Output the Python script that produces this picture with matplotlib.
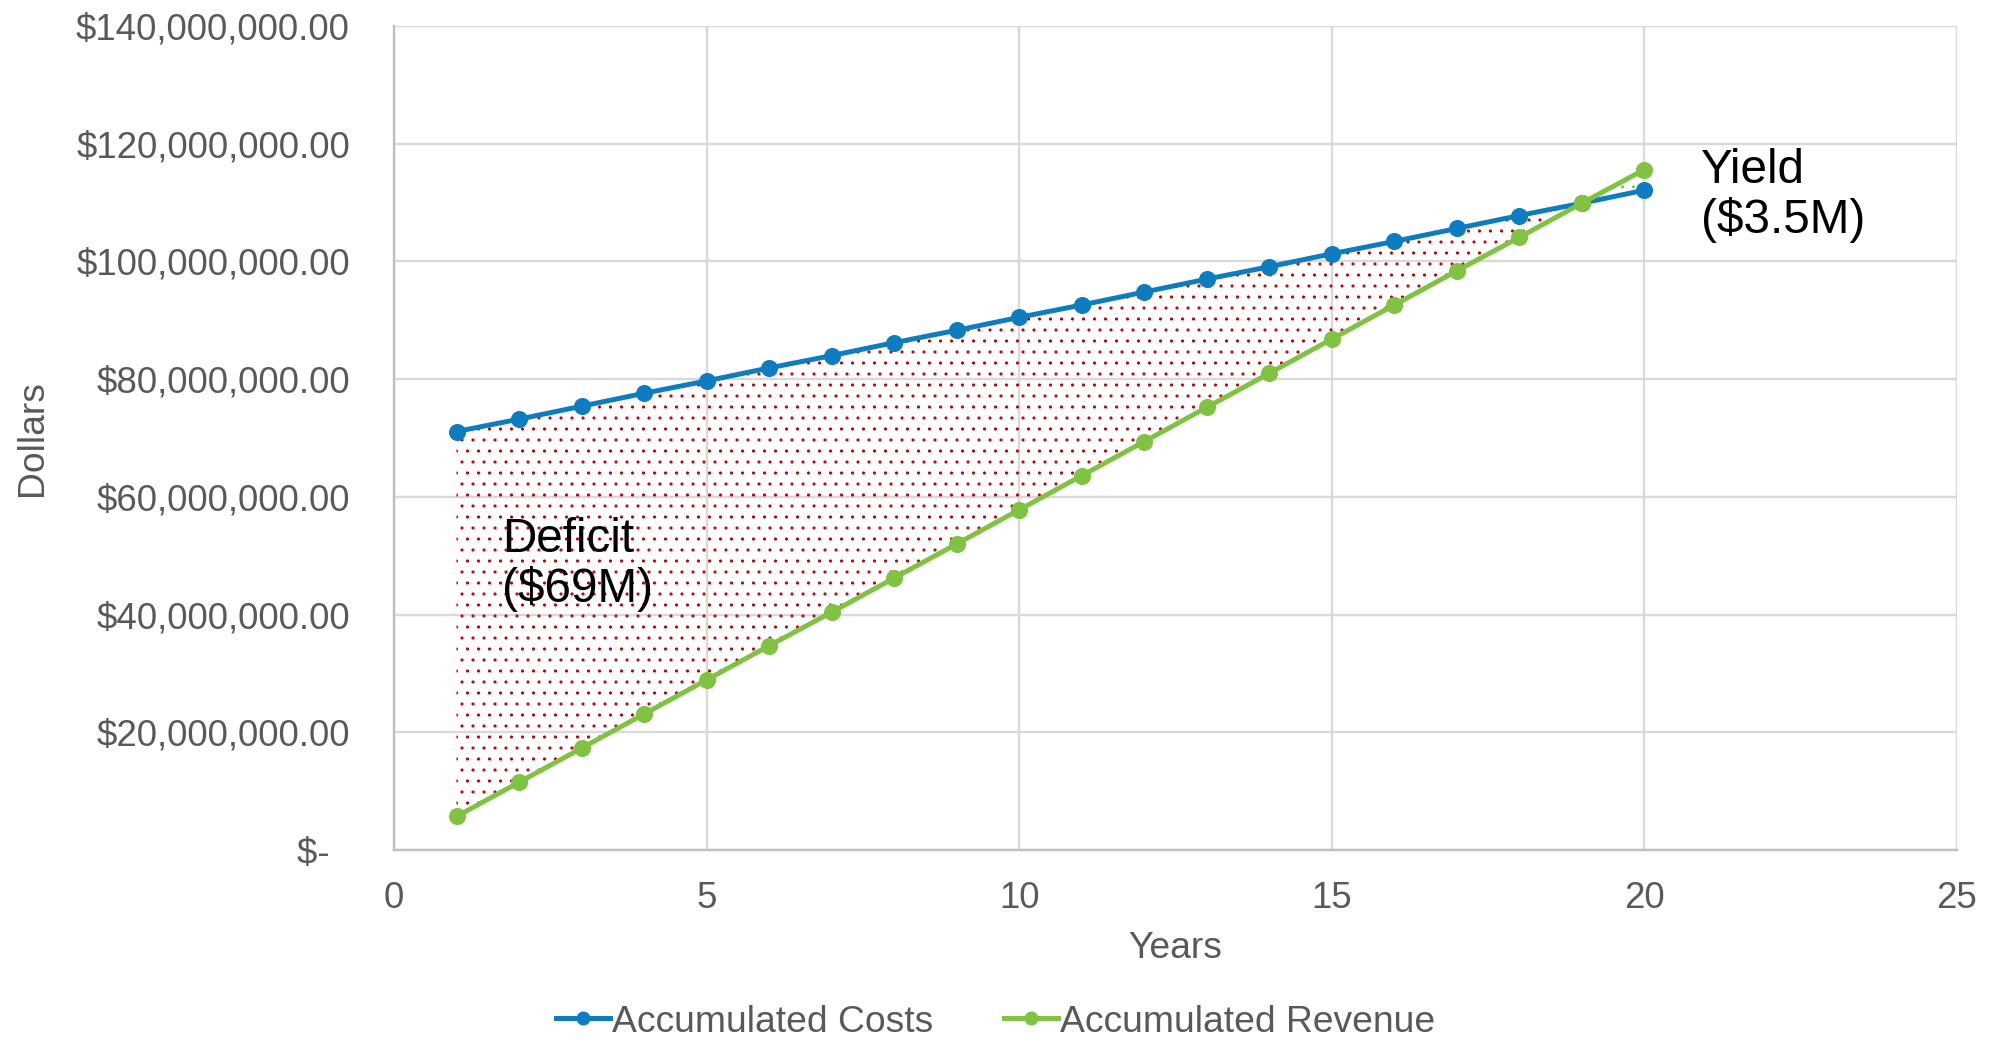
import matplotlib.pyplot as plt
from matplotlib.ticker import FuncFormatter, MultipleLocator

########################################################################################
'DATA'

years = list(range(1, 21))

# accumulated totals per year, in dollars
costs = [71.1e6, 73.2e6, 75.4e6, 77.6e6, 79.7e6, 81.9e6, 84.0e6, 86.2e6, 88.3e6, 90.5e6,
         92.6e6, 94.8e6, 97.0e6, 99.1e6, 101.3e6, 103.4e6, 105.6e6, 107.8e6, 109.9e6, 112.1e6]
revenue = [5.7e6, 11.5e6, 17.3e6, 23.1e6, 28.9e6, 34.7e6, 40.4e6, 46.2e6, 52.0e6, 57.8e6,
           63.6e6, 69.4e6, 75.2e6, 81.0e6, 86.8e6, 92.6e6, 98.4e6, 104.1e6, 109.9e6, 115.6e6]

deficit_label = 'Deficit\n($69M)'
yield_label = 'Yield\n($3.5M)'

########################################################################################
'STYLE'

DPI = 132
BLUE = '#0E7CC0'
GREEN = '#80C241'
RED = '#C00000'
GREY_TXT = '#595959'

plt.rcParams['font.family'] = ['Liberation Sans', 'DejaVu Sans']
plt.rcParams['hatch.linewidth'] = 0.5

fig = plt.figure(figsize=(1995 / DPI, 1043 / DPI), dpi=DPI)
ax = fig.add_axes([394 / 1995, 1 - 850 / 1043, (1957 - 394) / 1995, (850 - 26) / 1043])

########################################################################################
'PLOT'

# dotted area between the curves: red where costs lead, green where revenue leads
ax.fill_between(years, costs, revenue, where=[c >= r for c, r in zip(costs, revenue)],
                interpolate=True, facecolor='none', edgecolor=RED, hatch='..', linewidth=0, zorder=1)
ax.fill_between(years, costs, revenue, where=[r >= c for c, r in zip(costs, revenue)],
                interpolate=True, facecolor='none', edgecolor=GREEN, hatch='..', linewidth=0, zorder=1)

ax.plot(years, costs, color=BLUE, lw=2.7, marker='o', ms=8.3, label='Accumulated Costs', zorder=3)
ax.plot(years, revenue, color=GREEN, lw=2.7, marker='o', ms=8.3, label='Accumulated Revenue', zorder=3)

ax.text(1.73, 48.5e6, deficit_label, fontsize=26, color='black', va='center', ha='left', linespacing=1.12)
ax.text(20.9, 111.2e6, yield_label, fontsize=26, color='black', va='center', ha='left', linespacing=1.12)

########################################################################################
'AXES'

ax.set_xlim(0, 25)
ax.set_ylim(0, 140e6)
ax.xaxis.set_major_locator(MultipleLocator(5))
ax.yaxis.set_major_locator(MultipleLocator(20e6))


def dollars(v, pos):
    if v == 0:
        return '$-  '
    return '${:,.2f}'.format(v)


ax.yaxis.set_major_formatter(FuncFormatter(dollars))
ax.grid(True, color='#D9D9D9', lw=1.3, zorder=0)
ax.set_axisbelow(True)
for s in ['top', 'right']:
    ax.spines[s].set_visible(False)
for s in ['left', 'bottom']:
    ax.spines[s].set_color('#BFBFBF')
    ax.spines[s].set_linewidth(1.3)
ax.tick_params(axis='both', length=0, labelsize=20, labelcolor=GREY_TXT)
ax.tick_params(axis='y', pad=24)
ax.tick_params(axis='x', pad=17)

ax.set_xlabel('Years', fontsize=20.3, color=GREY_TXT, va='center')
ax.xaxis.set_label_coords(0.5, -0.12)
ax.set_ylabel('Dollars', fontsize=20.3, color=GREY_TXT, va='center')
ax.yaxis.set_label_coords(-0.2316, 0.5)

fig.legend(loc='center', bbox_to_anchor=(0.499, 1 - 1022 / 1043), ncol=2, frameon=False,
           fontsize=20.3, labelcolor=GREY_TXT, handlelength=1.45, handletextpad=0.05,
           columnspacing=1.9, markerscale=0.8)

fig.savefig('out.png', dpi=DPI)
